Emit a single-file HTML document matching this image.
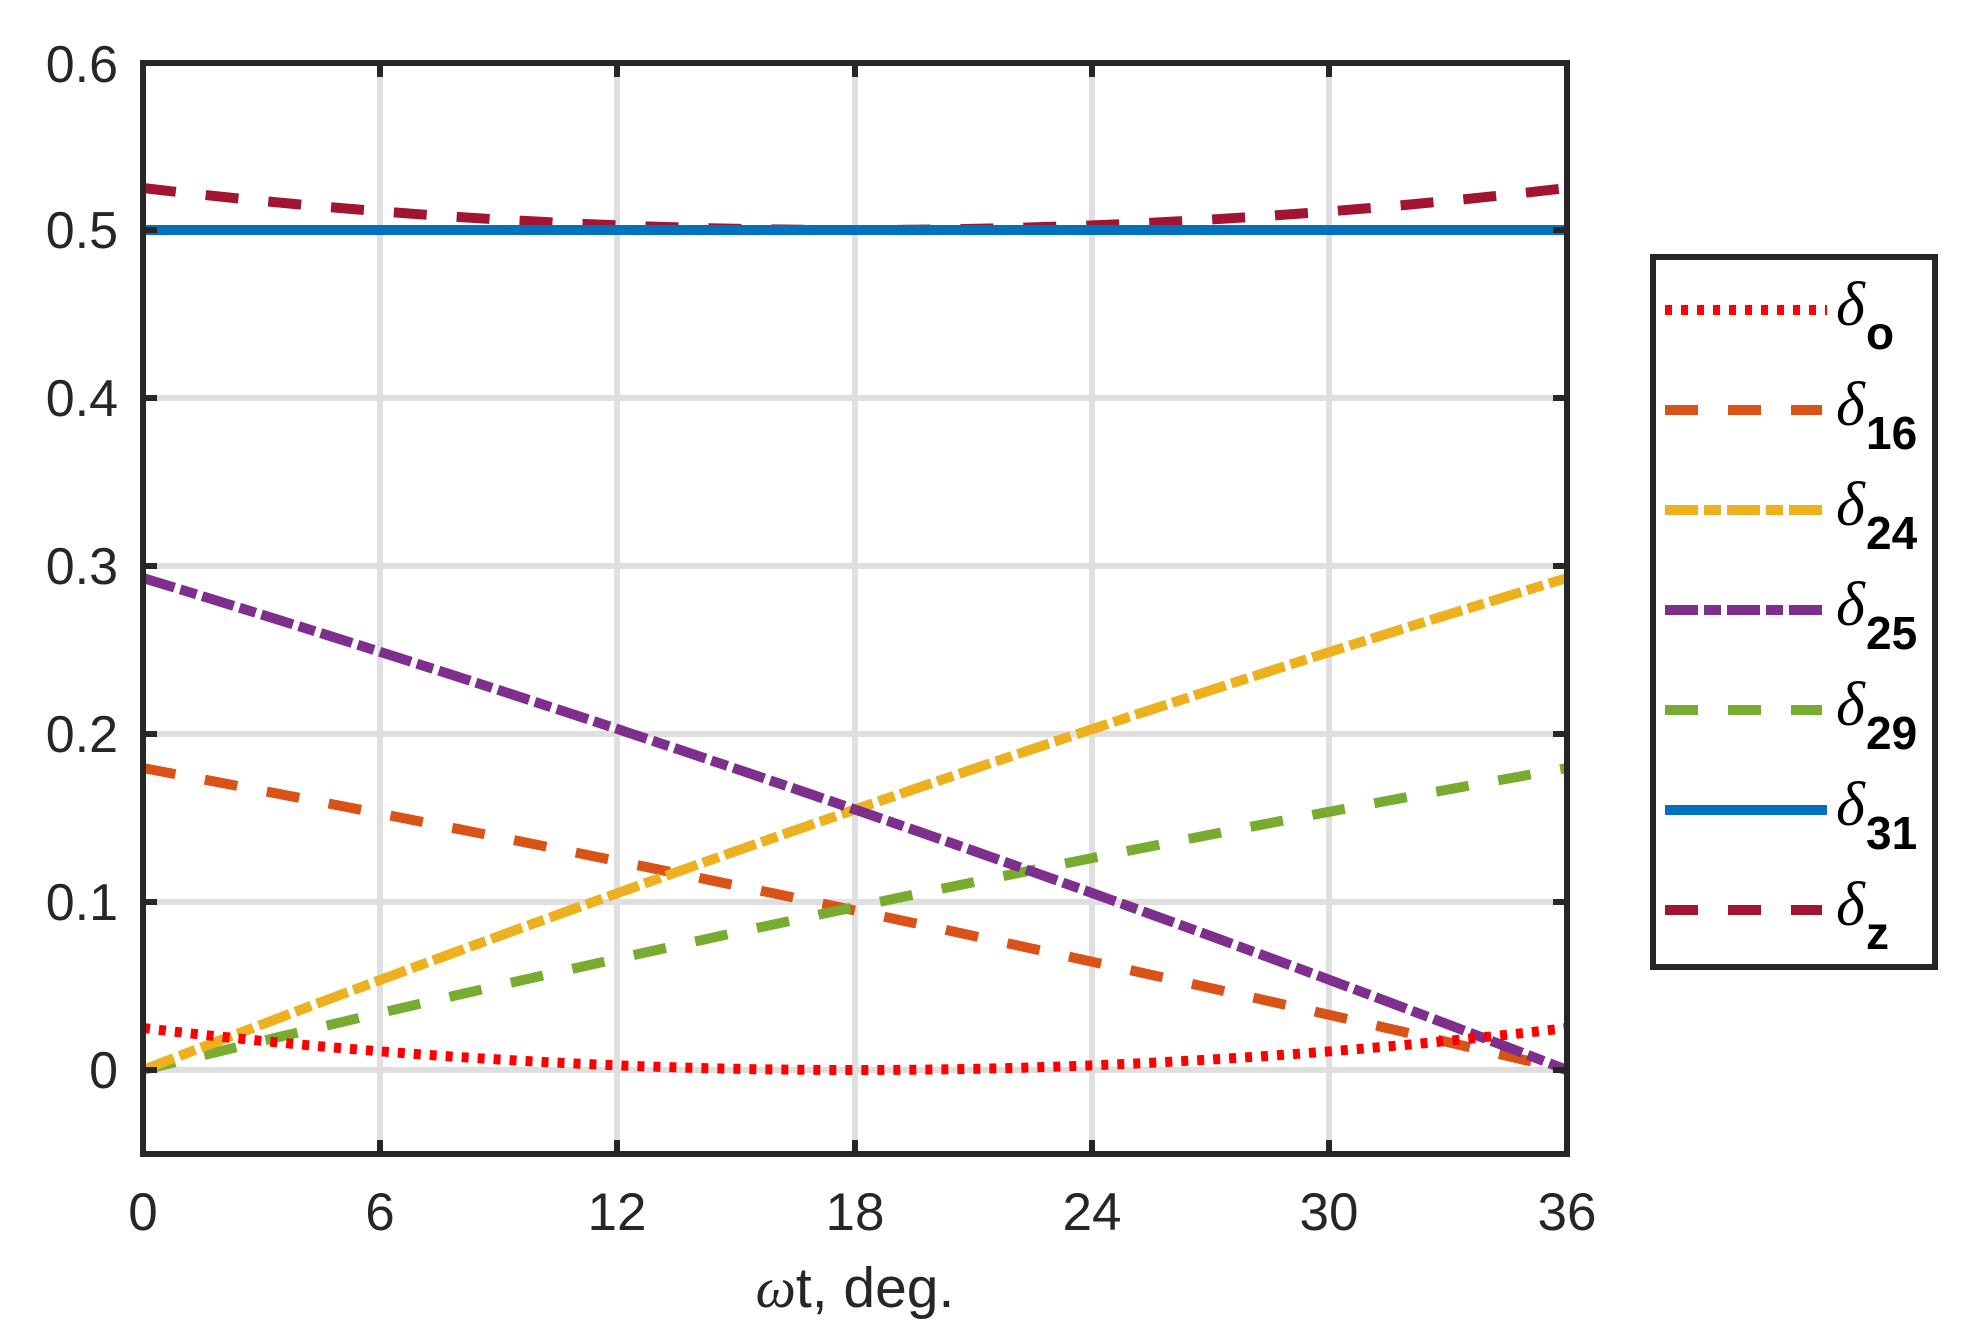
<!DOCTYPE html>
<html><head><meta charset="utf-8"><style>html,body{margin:0;padding:0;background:#fff}</style></head>
<body>
<svg width="1962" height="1335" xmlns="http://www.w3.org/2000/svg" font-family="Liberation Sans, Arial, sans-serif" fill="#262626">
<rect width="1962" height="1335" fill="#fff"/>
<!-- grid -->
<g stroke="#dfdfdf" stroke-width="6">
<line x1="380" y1="63" x2="380" y2="1154"/><line x1="617" y1="63" x2="617" y2="1154"/><line x1="855" y1="63" x2="855" y2="1154"/><line x1="1092" y1="63" x2="1092" y2="1154"/><line x1="1329" y1="63" x2="1329" y2="1154"/>
<line x1="143" y1="1070" x2="1567" y2="1070"/><line x1="143" y1="902" x2="1567" y2="902"/><line x1="143" y1="734" x2="1567" y2="734"/><line x1="143" y1="566" x2="1567" y2="566"/><line x1="143" y1="398" x2="1567" y2="398"/><line x1="143" y1="230" x2="1567" y2="230"/>
</g>
<g fill="none" stroke-width="10" stroke-linecap="butt">
<path d="M143,188 Q855,272 1567,188" stroke="#a2142f" stroke-dasharray="33,30"/>
<line x1="143" y1="230" x2="1567" y2="230" stroke="#0072bd"/>
<path d="M143,768 Q855,902 1567,1070" stroke="#d95319" stroke-dasharray="33,30"/>
<path d="M143,1070 Q855,895 1567,768" stroke="#77ac30" stroke-dasharray="33,30"/>
<path d="M143,1070 Q855,795 1567,578" stroke="#edb120" stroke-dasharray="33,6,17,6"/>
<path d="M143,578 Q855,795 1567,1070" stroke="#7e2f8e" stroke-dasharray="33,6,17,6"/>
<path d="M143,1028 Q855,1112 1567,1028" stroke="#ff0000" stroke-dasharray="7,9"/>
</g>
<!-- axes box -->
<rect x="143" y="63" width="1424" height="1091" fill="none" stroke="#262626" stroke-width="6"/>
<g stroke="#262626" stroke-width="6">
<line x1="380" y1="63" x2="380" y2="77"/><line x1="617" y1="63" x2="617" y2="77"/><line x1="855" y1="63" x2="855" y2="77"/><line x1="1092" y1="63" x2="1092" y2="77"/><line x1="1329" y1="63" x2="1329" y2="77"/>
<line x1="380" y1="1154" x2="380" y2="1140"/><line x1="617" y1="1154" x2="617" y2="1140"/><line x1="855" y1="1154" x2="855" y2="1140"/><line x1="1092" y1="1154" x2="1092" y2="1140"/><line x1="1329" y1="1154" x2="1329" y2="1140"/>
<line x1="143" y1="1070" x2="157" y2="1070"/><line x1="143" y1="902" x2="157" y2="902"/><line x1="143" y1="734" x2="157" y2="734"/><line x1="143" y1="566" x2="157" y2="566"/><line x1="143" y1="398" x2="157" y2="398"/><line x1="143" y1="230" x2="157" y2="230"/>
<line x1="1567" y1="1070" x2="1553" y2="1070"/><line x1="1567" y1="902" x2="1553" y2="902"/><line x1="1567" y1="734" x2="1553" y2="734"/><line x1="1567" y1="566" x2="1553" y2="566"/><line x1="1567" y1="398" x2="1553" y2="398"/><line x1="1567" y1="230" x2="1553" y2="230"/>
</g>
<g font-size="52" text-anchor="end">
<text x="118" y="1088">0</text><text x="118" y="920">0.1</text><text x="118" y="752">0.2</text><text x="118" y="584">0.3</text><text x="118" y="416">0.4</text><text x="118" y="248">0.5</text><text x="118" y="82">0.6</text>
</g>
<g font-size="53" text-anchor="middle">
<text x="143" y="1230">0</text><text x="380" y="1230">6</text><text x="617" y="1230">12</text><text x="855" y="1230">18</text><text x="1092" y="1230">24</text><text x="1329" y="1230">30</text><text x="1567" y="1230">36</text>
</g>
<text x="855" y="1307" font-size="57" text-anchor="middle"><tspan font-family="Liberation Serif, serif" font-style="italic">ω</tspan>t, deg.</text>
<!-- legend -->
<rect x="1653" y="257" width="282" height="710" fill="#fff" stroke="#262626" stroke-width="6"/>
<g stroke-width="10" fill="none">
<line x1="1665" y1="310" x2="1827" y2="310" stroke="#ff0000" stroke-dasharray="7,9"/>
<line x1="1665" y1="410" x2="1822" y2="410" stroke="#d95319" stroke-dasharray="33,30"/>
<line x1="1665" y1="510" x2="1822" y2="510" stroke="#edb120" stroke-dasharray="33,6,17,6"/>
<line x1="1665" y1="610" x2="1822" y2="610" stroke="#7e2f8e" stroke-dasharray="33,6,17,6"/>
<line x1="1665" y1="710" x2="1822" y2="710" stroke="#77ac30" stroke-dasharray="33,30"/>
<line x1="1665" y1="810" x2="1827" y2="810" stroke="#0072bd"/>
<line x1="1665" y1="910" x2="1822" y2="910" stroke="#a2142f" stroke-dasharray="33,30"/>
</g>
<g fill="#000" font-family="Liberation Serif, serif" font-style="italic" font-size="62">
<text x="1836" y="325">δ</text><text x="1836" y="425">δ</text><text x="1836" y="525">δ</text><text x="1836" y="625">δ</text><text x="1836" y="725">δ</text><text x="1836" y="825">δ</text><text x="1836" y="925">δ</text>
</g>
<g fill="#000" font-size="46" font-weight="bold">
<text x="1866" y="349">o</text><text x="1866" y="449">16</text><text x="1866" y="549">24</text><text x="1866" y="649">25</text><text x="1866" y="749">29</text><text x="1866" y="849">31</text><text x="1866" y="949">z</text>
</g>
</svg>
</body></html>
